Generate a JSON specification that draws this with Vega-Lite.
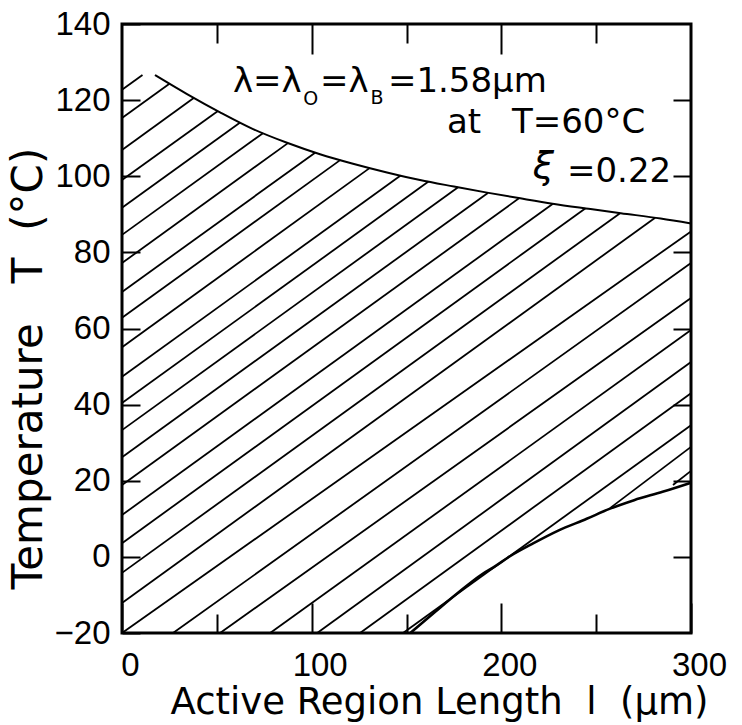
{
  "$schema": "https://vega.github.io/schema/vega-lite/v6.json",
  "width": 569,
  "height": 609,
  "autosize": {"type": "none"},
  "padding": {"left": 122, "top": 24, "right": 51, "bottom": 92},
  "background": "white",
  "config": {
    "view": {"stroke": "black", "strokeWidth": 3},
    "axis": {
      "grid": false,
      "domain": false,
      "tickColor": "black",
      "tickWidth": 2,
      "labelColor": "black",
      "titleColor": "black",
      "labelFont": "Liberation Sans",
      "titleFont": "DejaVu Sans",
      "titleFontWeight": "normal"
    }
  },
  "resolve": {"axis": {"x": "independent", "y": "independent"}},
  "layer": [
    {
      "data": {"values": [
        {"x1": 0, "y1": 122.7, "x2": 10.8, "y2": 126.6},
        {"x1": 0, "y1": 115.3, "x2": 25.0, "y2": 124.3},
        {"x1": 0, "y1": 106.9, "x2": 38.0, "y2": 120.6},
        {"x1": 0, "y1": 99.0, "x2": 50.4, "y2": 117.1},
        {"x1": 0, "y1": 91.7, "x2": 62.3, "y2": 114.1},
        {"x1": 0, "y1": 84.6, "x2": 74.3, "y2": 111.3},
        {"x1": 0, "y1": 77.2, "x2": 87.5, "y2": 108.7},
        {"x1": 0, "y1": 69.6, "x2": 101.8, "y2": 106.2},
        {"x1": 0, "y1": 62.8, "x2": 115.2, "y2": 104.3},
        {"x1": 0, "y1": 55.1, "x2": 130.7, "y2": 102.2},
        {"x1": 0, "y1": 47.3, "x2": 146.9, "y2": 100.2},
        {"x1": 0, "y1": 40.4, "x2": 161.6, "y2": 98.6},
        {"x1": 0, "y1": 33.3, "x2": 177.2, "y2": 97.1},
        {"x1": 0, "y1": 26.2, "x2": 192.9, "y2": 95.6},
        {"x1": 0, "y1": 18.9, "x2": 209.3, "y2": 94.2},
        {"x1": 0, "y1": 11.0, "x2": 227.2, "y2": 92.8},
        {"x1": 0, "y1": 3.6, "x2": 244.4, "y2": 91.6},
        {"x1": 0, "y1": -4.2, "x2": 262.6, "y2": 90.3},
        {"x1": 0, "y1": -12.1, "x2": 281.1, "y2": 89.1},
        {"x1": 0, "y1": -20, "x2": 300, "y2": 85.5},
        {"x1": 26.9, "y1": -20, "x2": 300, "y2": 77.2},
        {"x1": 51.7, "y1": -20, "x2": 300, "y2": 68.0},
        {"x1": 78.1, "y1": -20, "x2": 300, "y2": 59.6},
        {"x1": 102.9, "y1": -20, "x2": 300, "y2": 51.2},
        {"x1": 125.5, "y1": -20, "x2": 300, "y2": 43.0},
        {"x1": 148.2, "y1": -20, "x2": 300, "y2": 34.6},
        {"x1": 257.3, "y1": 12.8, "x2": 300, "y2": 28.9},
        {"x1": 290.5, "y1": 18.9, "x2": 300, "y2": 22.6}
      ]},
      "mark": {"type": "rule", "stroke": "black", "strokeWidth": 1.8},
      "encoding": {
        "x": {
          "field": "x1", "type": "quantitative",
          "scale": {"domain": [0, 300], "nice": false, "zero": false},
          "axis": {
            "orient": "bottom", "offset": -30, "values": [0, 100, 200, 300],
            "tickSize": 30, "labelPadding": 16, "labelFontSize": 33, "labelOffset": 8,
            "labelFlush": false,
            "title": "Active Region Length\u00a0 l\u00a0 (μm)",
            "titleFontSize": 37, "titleX": 48, "titleY": 110,
            "titleAlign": "left", "titleBaseline": "alphabetic"
          }
        },
        "x2": {"field": "x2"},
        "y": {
          "field": "y1", "type": "quantitative",
          "scale": {"domain": [-20, 140], "nice": false, "zero": false},
          "axis": {
            "orient": "left", "offset": -18,
            "values": [-20, 0, 20, 40, 60, 80, 100, 120, 140],
            "tickSize": 18, "labelPadding": 12, "labelFontSize": 33,
            "title": "Temperature\u00a0\u00a0\u00a0T\u00a0\u00a0(°C)",
            "titleFontSize": 42, "titleX": -112, "titleY": 344,
            "titleAngle": -90, "titleAlign": "center", "titleBaseline": "middle"
          }
        },
        "y2": {"field": "y2"}
      }
    },
    {
      "data": {"values": [
        {"x": 17.4, "T": 126.6}, {"x": 34.3, "T": 121.6}, {"x": 51.7, "T": 116.8},
        {"x": 69.1, "T": 112.4}, {"x": 87.0, "T": 108.8}, {"x": 104.4, "T": 105.8},
        {"x": 121.8, "T": 103.3}, {"x": 139.7, "T": 101.0}, {"x": 157.1, "T": 99.0},
        {"x": 175.0, "T": 97.3}, {"x": 192.5, "T": 95.7}, {"x": 210.0, "T": 94.2},
        {"x": 227.0, "T": 92.8}, {"x": 247.0, "T": 91.4}, {"x": 263.0, "T": 90.3},
        {"x": 284.0, "T": 88.9}, {"x": 300.0, "T": 87.6}
      ]},
      "mark": {"type": "line", "stroke": "black", "strokeWidth": 2, "interpolate": "monotone"},
      "encoding": {
        "x": {
          "field": "x", "type": "quantitative",
          "scale": {"domain": [0, 300], "nice": false, "zero": false},
          "axis": {"orient": "bottom", "offset": -19, "values": [50, 150, 250], "tickSize": 19, "labels": false, "title": null}
        },
        "y": {
          "field": "T", "type": "quantitative",
          "scale": {"domain": [-20, 140], "nice": false, "zero": false},
          "axis": {"orient": "right", "offset": -18, "values": [0, 20, 40, 60, 80, 100, 120], "tickSize": 18, "labels": false, "title": null}
        }
      }
    },
    {
      "data": {"values": [
        {"x": 152, "T": -20}, {"x": 165, "T": -14.5}, {"x": 177, "T": -9.5},
        {"x": 190, "T": -4.5}, {"x": 196, "T": -2.7}, {"x": 205, "T": 0.3},
        {"x": 217, "T": 3.6}, {"x": 230, "T": 6.9}, {"x": 245, "T": 10.0},
        {"x": 257, "T": 12.6}, {"x": 270, "T": 14.9}, {"x": 285, "T": 17.1},
        {"x": 300, "T": 19.5}
      ]},
      "mark": {"type": "line", "stroke": "black", "strokeWidth": 2.6, "interpolate": "monotone"},
      "encoding": {
        "x": {
          "field": "x", "type": "quantitative",
          "scale": {"domain": [0, 300], "nice": false, "zero": false},
          "axis": {"orient": "top", "offset": -30, "values": [100, 200], "tickSize": 30, "labels": false, "title": null}
        },
        "y": {
          "field": "T", "type": "quantitative",
          "scale": {"domain": [-20, 140], "nice": false, "zero": false},
          "axis": null
        }
      }
    },
    {
      "data": {"values": [
        {"t": "λ=λ", "x": 58.5, "T": 122.1},
        {"t": "=λ", "x": 104.4, "T": 122.1},
        {"t": "=1.58μm", "x": 140.2, "T": 122.1},
        {"t": "at", "x": 171.3, "T": 111.4},
        {"t": "T=60°C", "x": 205.6, "T": 111.4},
        {"t": "=0.22", "x": 234.6, "T": 98.5}
      ]},
      "mark": {"type": "text", "font": "DejaVu Sans", "fontSize": 34, "align": "left", "baseline": "alphabetic", "color": "black"},
      "encoding": {
        "x": {
          "field": "x", "type": "quantitative",
          "scale": {"domain": [0, 300], "nice": false, "zero": false},
          "axis": {"orient": "top", "offset": -19, "values": [50, 150, 250], "tickSize": 19, "labels": false, "title": null}
        },
        "y": {
          "field": "T", "type": "quantitative",
          "scale": {"domain": [-20, 140], "nice": false, "zero": false},
          "axis": null
        },
        "text": {"field": "t"}
      }
    },
    {
      "data": {"values": [
        {"t": "O", "x": 95.6, "T": 118.7},
        {"t": "B", "x": 131.0, "T": 118.9}
      ]},
      "mark": {"type": "text", "font": "DejaVu Sans", "fontSize": 19, "align": "left", "baseline": "alphabetic", "color": "black"},
      "encoding": {
        "x": {"field": "x", "type": "quantitative", "scale": {"domain": [0, 300], "nice": false, "zero": false}, "axis": null},
        "y": {"field": "T", "type": "quantitative", "scale": {"domain": [-20, 140], "nice": false, "zero": false}, "axis": null},
        "text": {"field": "t"}
      }
    },
    {
      "data": {"values": [
        {"t": "ξ", "x": 216.5, "T": 99.5}
      ]},
      "mark": {"type": "text", "font": "DejaVu Sans", "fontSize": 38, "fontStyle": "italic", "align": "left", "baseline": "alphabetic", "color": "black"},
      "encoding": {
        "x": {"field": "x", "type": "quantitative", "scale": {"domain": [0, 300], "nice": false, "zero": false}, "axis": null},
        "y": {"field": "T", "type": "quantitative", "scale": {"domain": [-20, 140], "nice": false, "zero": false}, "axis": null},
        "text": {"field": "t"}
      }
    }
  ]
}
